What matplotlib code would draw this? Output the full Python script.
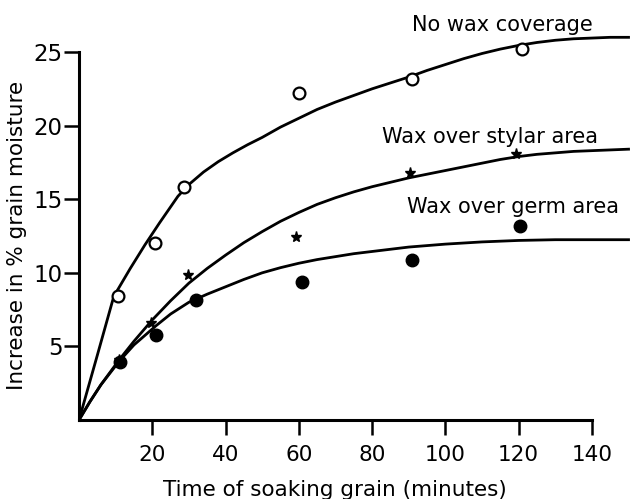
import matplotlib
matplotlib.use('Agg')
import matplotlib.pyplot as plt

# measured points (minutes, % moisture increase)
t_nowax = [10.6, 20.7, 28.7, 60, 91, 121]
y_nowax = [8.4, 12.0, 15.8, 22.2, 23.2, 25.2]
t_stylar = [11, 19.7, 29.8, 59.2, 90.3, 119.3]
y_stylar = [4.1, 6.6, 9.85, 12.4, 16.8, 18.1]
t_germ = [11.1, 21.1, 31.9, 61, 91, 120.4]
y_germ = [3.96, 5.8, 8.15, 9.4, 10.9, 13.2]

# hand-drawn fitted curves
tc_nowax = [0, 5, 9.5, 14, 18, 22, 27, 30, 34, 38, 42, 46, 50, 55, 60, 65, 70, 75, 80, 85,
            90, 95, 100, 105, 110, 115, 120, 125, 130, 135, 140, 145, 150]
yc_nowax = [0, 4.4, 8.4, 10.3, 11.9, 13.4, 15.2, 16.0, 16.85, 17.55, 18.15, 18.7, 19.2, 19.9,
            20.5, 21.1, 21.6, 22.05, 22.5, 22.9, 23.3, 23.75, 24.15, 24.55, 24.9, 25.2, 25.45,
            25.65, 25.8, 25.9, 25.95, 26.0, 26.0]
tc_stylar = [0, 3, 6, 11, 15, 20, 25, 30, 35, 40, 45, 50, 55, 60, 65, 70, 75, 80, 85, 90, 95,
             100, 105, 110, 115, 120, 125, 130, 135, 140, 145, 150]
yc_stylar = [0, 1.25, 2.4, 4.1, 5.35, 6.8, 8.1, 9.3, 10.3, 11.2, 12.05, 12.8, 13.5, 14.1, 14.65,
             15.1, 15.5, 15.85, 16.15, 16.45, 16.7, 16.95, 17.2, 17.45, 17.7, 17.9, 18.05, 18.15,
             18.25, 18.3, 18.35, 18.4]
tc_germ = [0, 3, 6, 11, 15, 21, 25, 30, 35, 40, 45, 50, 55, 60, 65, 70, 75, 80, 85, 90, 95,
           100, 110, 120, 130, 140, 150]
yc_germ = [0, 1.25, 2.4, 4.0, 5.1, 6.4, 7.2, 8.0, 8.55, 9.05, 9.55, 10.0, 10.35, 10.65, 10.9,
           11.1, 11.3, 11.45, 11.6, 11.75, 11.85, 11.95, 12.1, 12.2, 12.25, 12.25, 12.25]

xticks = [20, 40, 60, 80, 100, 120, 140]
yticks = [5, 10, 15, 20, 25]

plt.rcParams['font.family'] = ['DejaVu Sans']

fig = plt.figure(figsize=(6.3, 4.99), dpi=100)
ax = fig.add_axes([0.1254, 0.1583, 0.8746, 0.7964])

lw = 2.0
ax.plot(tc_nowax, yc_nowax, color='black', lw=lw, zorder=2, solid_joinstyle='round')
ax.plot(tc_stylar, yc_stylar, color='black', lw=lw, zorder=2, solid_joinstyle='round')
ax.plot(tc_germ, yc_germ, color='black', lw=lw, zorder=2, solid_joinstyle='round')

ax.plot(t_nowax, y_nowax, 'o', ms=8.5, mfc='white', mec='black', mew=1.6, zorder=3)
ax.plot(t_stylar, y_stylar, '*', ms=8, color='black', zorder=3)
ax.plot(t_germ, y_germ, 'o', ms=9, color='black', zorder=4)

ax.text(90.9, 26.4, 'No wax coverage', fontsize=15, va='baseline', ha='left')
ax.text(82.7, 18.84, 'Wax over stylar area', fontsize=15, va='baseline', ha='left')
ax.text(89.4, 14.06, 'Wax over germ area', fontsize=15, va='baseline', ha='left')

ax.set_xlim(0, 150.4)
ax.set_ylim(0, 27)
ax.spines['top'].set_visible(False)
ax.spines['right'].set_visible(False)
ax.spines['left'].set_bounds(0, 25)
ax.spines['bottom'].set_bounds(0, 140)
ax.spines['left'].set_linewidth(2.2)
ax.spines['bottom'].set_linewidth(2.2)
ax.set_xticks(xticks)
ax.set_yticks(yticks)
ax.tick_params(axis='x', direction='out', length=11, width=1.8, pad=7, labelsize=15.5)
ax.tick_params(axis='y', direction='out', length=11, width=1.8, pad=1, labelsize=16.5)

fig.text(0.532, 0.018, 'Time of soaking grain (minutes)', fontsize=15.5, ha='center', va='center')
fig.text(17.5 / 630, 0.529, 'Increase in % grain moisture', fontsize=15.5, rotation=90,
         ha='center', va='center')

fig.savefig('out.png', dpi=100)
